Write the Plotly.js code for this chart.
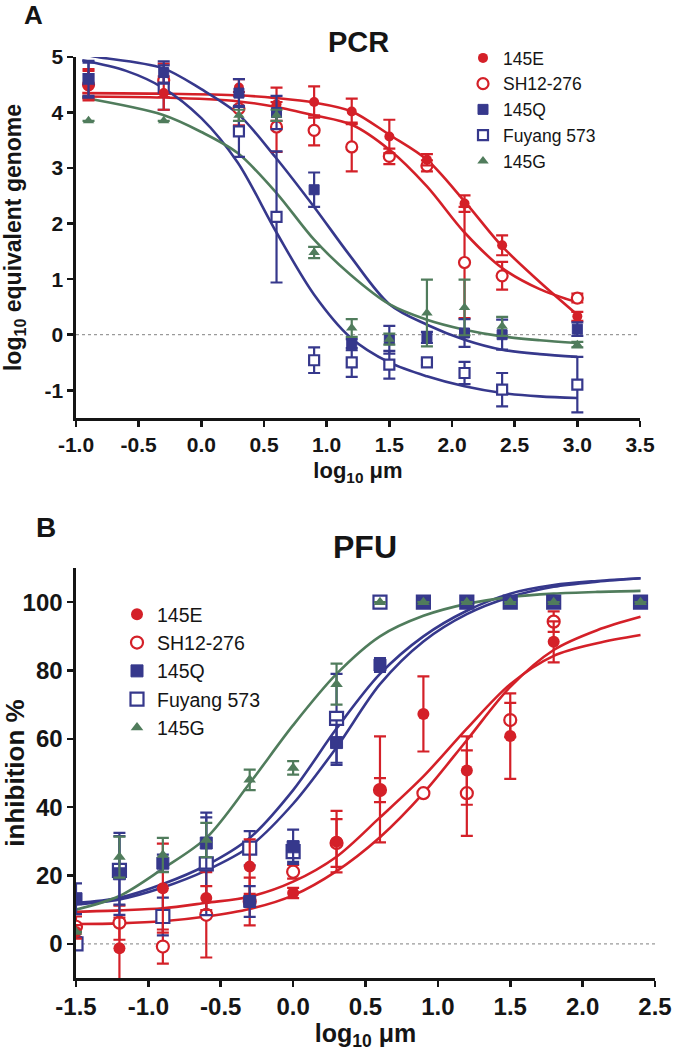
<!DOCTYPE html>
<html><head><meta charset="utf-8">
<script src="https://cdn.plot.ly/plotly-3.0.1.min.js"></script>
<style>html,body{margin:0;padding:0;background:#fff}#chart{width:675px;height:1051px}</style>
</head><body><div id="chart"></div><script>
// ---------- Panel A (PCR) data ----------
const xA = [-0.9, -0.3, 0.3, 0.6, 0.9, 1.2, 1.5, 1.8, 2.1, 2.4, 3.0];
const a145E = [4.5, 4.35, 4.45, 4.15, 4.19, 4.02, 3.57, 3.15, 2.36, 1.61, 0.33];
const a145Eerr = [0.28, 0.3, 0.15, 0.3, 0.28, 0.23, 0.3, 0.1, 0.15, 0.18, 0.08];
const aSH = [4.5, 4.58, 4.07, 3.74, 3.68, 3.38, 3.21, 3.04, 1.3, 1.06, 0.66];
const aSHerr = [0.25, 0.3, 0.3, 0.45, 0.27, 0.44, 0.14, 0.1, 1.0, 0.25, 0.08];
const a145Q = [4.6, 4.72, 4.35, 4.0, 2.61, -0.18, -0.09, -0.05, 0.03, 0.0, 0.1];
const a145Qerr = [0.33, 0.2, 0.25, 0.3, 0.31, 0.1, 0.25, 0.1, 0.25, 0.27, 0.12];
const aFu = [4.6, 4.45, 3.66, 2.12, -0.46, -0.5, -0.54, -0.5, -0.69, -0.99, -0.9];
const aFuerr = [0.3, 0.4, 0.46, 1.18, 0.23, 0.26, 0.25, 0.05, 0.2, 0.3, 0.5];
const a145G = [3.85, 3.85, 3.95, 3.95, 1.48, 0.12, -0.08, 0.39, 0.49, 0.15, -0.18];
const a145Gerr = [0, 0, 0.1, 0.1, 0.1, 0.16, 0.1, 0.6, 0.5, 0.17, 0.05];

// fitted curves (panel A)
const cxAred = [-0.95, -0.3, 0.3, 0.6, 0.9, 1.2, 1.5, 1.8, 2.1, 2.4, 2.7, 3.0];
const cyA145E = [4.35, 4.34, 4.31, 4.26, 4.18, 4.02, 3.6, 3.15, 2.4, 1.59, 0.95, 0.36];
const cyASH = [4.29, 4.27, 4.2, 4.1, 3.95, 3.78, 3.33, 2.67, 1.84, 1.2, 0.82, 0.58];
const cxA145Q = [-0.95, -0.83, -0.31, 0.0, 0.29, 0.59, 0.9, 1.19, 1.5, 1.8, 2.1, 2.4, 2.7, 3.0];
const cyA145Q = [5.05, 5.0, 4.8, 4.42, 3.98, 3.2, 2.3, 1.41, 0.55, 0.18, -0.09, -0.27, -0.35, -0.4];
const cxAFu = [-0.95, -0.6, -0.31, 0.0, 0.29, 0.6, 0.9, 1.19, 1.5, 1.8, 2.1, 2.4, 2.7, 3.0];
const cyAFu = [4.94, 4.75, 4.45, 3.9, 3.1, 1.84, 0.72, -0.05, -0.5, -0.75, -0.93, -1.05, -1.11, -1.14];
const cxAG = [-0.95, -0.31, 0.0, 0.29, 0.6, 0.9, 1.19, 1.5, 1.8, 2.1, 2.4, 2.7, 3.0];
const cyAG = [4.27, 3.96, 3.65, 3.27, 2.55, 1.71, 1.08, 0.55, 0.27, 0.09, -0.03, -0.1, -0.15];

// ---------- Panel B (PFU) data ----------
const xB = [-1.5, -1.2, -0.9, -0.6, -0.3, 0.0, 0.3, 0.6, 0.9, 1.2, 1.5, 1.8, 2.4];
const b145E = [3.5, -1.3, 16.3, 13.4, 22.6, 14.9, 29.9, 45.2, 67.3, 50.7, 60.8, 88.4, null];
const b145Eerr = [2, 9, 13, 3.5, 8, 1.5, 9, 15.5, 11, 10, 12.5, 6, null];
const bSH = [5, 6.2, -0.8, 8.5, 12.4, 21.1, 29.5, 45, 44.1, 44.1, 65.5, 94.3, null];
const bSHerr = [3, 5, 5, 12.5, 7, 2, 7, 3.5, 0, 12.5, 5, 3, null];
const b145Q = [13.2, 20.5, 23.6, 29.5, 12.4, 28.4, 58.9, 81.6, 100, 100, 100, 100, 100];
const b145Qerr = [4.5, 12, 2.5, 7.5, 4.5, 5, 6.5, 2, 0, 0, 0, 0, 0];
const bFu = [0, 21.5, 8, 23.4, 28, 27, 66, 100, 100, 100, 100, 100, 100];
const bFuerr = [0, 10, 5.5, 15, 5, 3, 13, 0, 0, 0, 0, 0, 0];
const b145G = [3.5, 25.4, 26, 30.4, 48, 51.5, 76, 100, 100, 100, 100, 100, 100];
const b145Gerr = [0, 6, 5, 5, 3, 2, 6, 0, 0, 0, 0, 0, 0];

// fitted curves (panel B)
const cxB = [-1.5, -1.2, -0.9, -0.6, -0.3, 0.0, 0.3, 0.6, 0.9, 1.2, 1.5, 1.8, 2.1, 2.4];
const cyB145E = [9.4, 9.8, 10.4, 12, 13.8, 18.2, 25.5, 37, 49, 63, 76, 84.3, 88, 90.4];
const cyBSH = [5.8, 6, 6.6, 8, 10.2, 14.2, 21.3, 31.2, 44.1, 59.6, 75.2, 86, 91.8, 95.7];
const cyB145Q = [11.5, 13, 16.5, 21.5, 28.5, 41, 57.5, 76, 88.5, 96.5, 101.5, 104.5, 106, 107];
const cyBFu = [12, 13.5, 17.5, 23, 31, 45, 63, 79, 90, 97.5, 102.5, 105, 106.2, 107];
const cyBG = [10, 14, 22, 31, 47, 64, 79, 90, 96, 99.5, 101.5, 102.5, 103, 103.3];

// ---------- labels ----------
const seriesNames = ['145E', 'SH12-276', '145Q', 'Fuyang 573', '145G'];
const tickAx = [-1.0, -0.5, 0.0, 0.5, 1.0, 1.5, 2.0, 2.5, 3.0, 3.5];
const tickAxText = ['-1.0', '-0.5', '0.0', '0.5', '1.0', '1.5', '2.0', '2.5', '3.0', '3.5'];
const tickAy = [-1, 0, 1, 2, 3, 4, 5];
const tickAyText = ['-1', '0', '1', '2', '3', '4', '5'];
const tickBx = [-1.5, -1.0, -0.5, 0.0, 0.5, 1.0, 1.5, 2.0, 2.5];
const tickBxText = ['-1.5', '-1.0', '-0.5', '0.0', '0.5', '1.0', '1.5', '2.0', '2.5'];
const tickBy = [0, 20, 40, 60, 80, 100];
const tickByText = ['0', '20', '40', '60', '80', '100'];

// ---------- styling ----------
const RED = 'rgb(212,32,40)', BLUE = 'rgb(54,56,140)', GREEN = 'rgb(80,124,92)';
const FAM = 'Liberation Sans, Arial, Helvetica, sans-serif';
const INK = '#151515';

function curve(x, y, color, xa, ya) {
  return {x: x, y: y, type: 'scatter', mode: 'lines', xaxis: xa, yaxis: ya,
    line: {color: color, width: 2.6, shape: 'spline', smoothing: 0.9},
    hoverinfo: 'skip', showlegend: false};
}
function pts(x, y, err, name, rank, color, marker, xa, ya, leg) {
  return {x: x, y: y, type: 'scatter', mode: 'markers', name: name, xaxis: xa, yaxis: ya,
    legend: leg, legendrank: rank, showlegend: true, cliponaxis: true,
    marker: marker,
    error_y: {type: 'data', array: err, visible: true, color: color, thickness: 2.2, width: 6}};
}
function mk(kind, color, size) {
  if (kind === 'circle') return {symbol: 'circle', size: size, color: color, line: {width: 0}};
  if (kind === 'ocircle') return {symbol: 'circle', size: size, color: 'white', line: {color: color, width: 2.2}};
  if (kind === 'square') return {symbol: 'square', size: size, color: color, line: {color: color, width: 1}};
  if (kind === 'osquare') return {symbol: 'square', size: size, color: 'white', line: {color: color, width: 2.2}};
  return {symbol: 'triangle-up', size: size, color: color, line: {width: 0}};
}

const data = [
  curve(cxAred, cyA145E, RED, 'x', 'y'),
  curve(cxAred, cyASH, RED, 'x', 'y'),
  curve(cxA145Q, cyA145Q, BLUE, 'x', 'y'),
  curve(cxAFu, cyAFu, BLUE, 'x', 'y'),
  curve(cxAG, cyAG, GREEN, 'x', 'y'),
  pts(xA, aSH, aSHerr, seriesNames[1], 2, RED, mk('ocircle', RED, 11), 'x', 'y', 'legend'),
  pts(xA, aFu, aFuerr, seriesNames[3], 4, BLUE, mk('osquare', BLUE, 10), 'x', 'y', 'legend'),
  pts(xA, a145E, a145Eerr, seriesNames[0], 1, RED, mk('circle', RED, 10), 'x', 'y', 'legend'),
  pts(xA, a145Q, a145Qerr, seriesNames[2], 3, BLUE, mk('square', BLUE, 10), 'x', 'y', 'legend'),
  pts(xA, a145G, a145Gerr, seriesNames[4], 5, GREEN, mk('tri', GREEN, 10), 'x', 'y', 'legend'),

  curve(cxB, cyB145E, RED, 'x2', 'y2'),
  curve(cxB, cyBSH, RED, 'x2', 'y2'),
  curve(cxB, cyB145Q, BLUE, 'x2', 'y2'),
  curve(cxB, cyBFu, BLUE, 'x2', 'y2'),
  curve(cxB, cyBG, GREEN, 'x2', 'y2'),
  pts(xB, bSH, bSHerr, seriesNames[1], 2, RED, mk('ocircle', RED, 12), 'x2', 'y2', 'legend2'),
  pts(xB, bFu, bFuerr, seriesNames[3], 4, BLUE, mk('osquare', BLUE, 13), 'x2', 'y2', 'legend2'),
  pts(xB, b145E, b145Eerr, seriesNames[0], 1, RED, mk('circle', RED, 12), 'x2', 'y2', 'legend2'),
  pts(xB, b145Q, b145Qerr, seriesNames[2], 3, BLUE, mk('square', BLUE, 12), 'x2', 'y2', 'legend2'),
  pts(xB, b145G, b145Gerr, seriesNames[4], 5, GREEN, mk('tri', GREEN, 11), 'x2', 'y2', 'legend2')
];

const W = 675, H = 1051;
function axisBase(size) {
  return {showline: true, linewidth: 2.6, linecolor: INK, ticks: 'outside', ticklen: 6,
    tickwidth: 2.6, tickcolor: INK, showgrid: false, zeroline: false, automargin: false,
    fixedrange: true, tickfont: {family: FAM, size: size, color: INK, weight: 'bold'}};
}

const layout = {
  width: W, height: H, margin: {l: 0, r: 0, t: 0, b: 0},
  paper_bgcolor: 'white', plot_bgcolor: 'white', showlegend: true,
  font: {family: FAM, color: INK},
  xaxis: Object.assign(axisBase(21), {domain: [76 / W, 640 / W], range: [-1, 3.5], anchor: 'y',
    tickmode: 'array', tickvals: tickAx, ticktext: tickAxText,
    title: {text: 'log<sub>10</sub> \u03bcm', font: {family: FAM, size: 22, color: INK, weight: 'bold'}, standoff: 8}}),
  yaxis: Object.assign(axisBase(21), {domain: [1 - 418 / H, 1 - 57 / H], range: [-1.5, 5], anchor: 'x',
    tickmode: 'array', tickvals: tickAy, ticktext: tickAyText,
    title: {text: 'log<sub>10</sub> equivalent genome', font: {family: FAM, size: 23, color: INK, weight: 'bold'}, standoff: 22}}),
  xaxis2: Object.assign(axisBase(24), {domain: [76 / W, 655 / W], range: [-1.5, 2.5], anchor: 'y2',
    tickmode: 'array', tickvals: tickBx, ticktext: tickBxText,
    title: {text: 'log<sub>10</sub> \u03bcm', font: {family: FAM, size: 25, color: INK, weight: 'bold'}, standoff: 10}}),
  yaxis2: Object.assign(axisBase(24), {domain: [1 - 978 / H, 1 - 568 / H], range: [-10, 110], anchor: 'x2',
    tickmode: 'array', tickvals: tickBy, ticktext: tickByText,
    title: {text: 'inhibition %', font: {family: FAM, size: 26, color: INK, weight: 'bold'}, standoff: 4}}),
  legend: {x: 463 / W, y: 1 - 40 / H, xanchor: 'left', yanchor: 'top', bgcolor: 'rgba(0,0,0,0)',
    font: {family: FAM, size: 17.5, color: INK}, tracegroupgap: 0, itemwidth: 30, traceorder: 'normal'},
  legend2: {x: 117 / W, y: 1 - 595 / H, xanchor: 'left', yanchor: 'top', bgcolor: 'rgba(0,0,0,0)',
    font: {family: FAM, size: 19.5, color: INK}, tracegroupgap: 0, itemwidth: 30, traceorder: 'normal'},
  shapes: [
    {type: 'line', xref: 'x domain', x0: 0, x1: 1, yref: 'y', y0: 0, y1: 0, layer: 'below',
      line: {color: '#9a9a9a', width: 1.2, dash: 'dot'}},
    {type: 'line', xref: 'x2 domain', x0: 0, x1: 1, yref: 'y2', y0: 0, y1: 0, layer: 'below',
      line: {color: '#9a9a9a', width: 1.2, dash: 'dot'}}
  ],
  annotations: [
    {text: 'A', xref: 'paper', yref: 'paper', x: 33 / W, y: 1 - 15 / H, xanchor: 'center', yanchor: 'middle',
      showarrow: false, font: {family: FAM, size: 26, color: INK, weight: 'bold'}},
    {text: 'PCR', xref: 'paper', yref: 'paper', x: 358 / W, y: 1 - 42 / H, xanchor: 'center', yanchor: 'middle',
      showarrow: false, font: {family: FAM, size: 29, color: INK, weight: 'bold'}},
    {text: 'B', xref: 'paper', yref: 'paper', x: 46 / W, y: 1 - 527 / H, xanchor: 'center', yanchor: 'middle',
      showarrow: false, font: {family: FAM, size: 28, color: INK, weight: 'bold'}},
    {text: 'PFU', xref: 'paper', yref: 'paper', x: 365 / W, y: 1 - 547 / H, xanchor: 'center', yanchor: 'middle',
      showarrow: false, font: {family: FAM, size: 32, color: INK, weight: 'bold'}}
  ]
};

Plotly.newPlot('chart', data, layout, {displayModeBar: false, staticPlot: true});
</script></body></html>
